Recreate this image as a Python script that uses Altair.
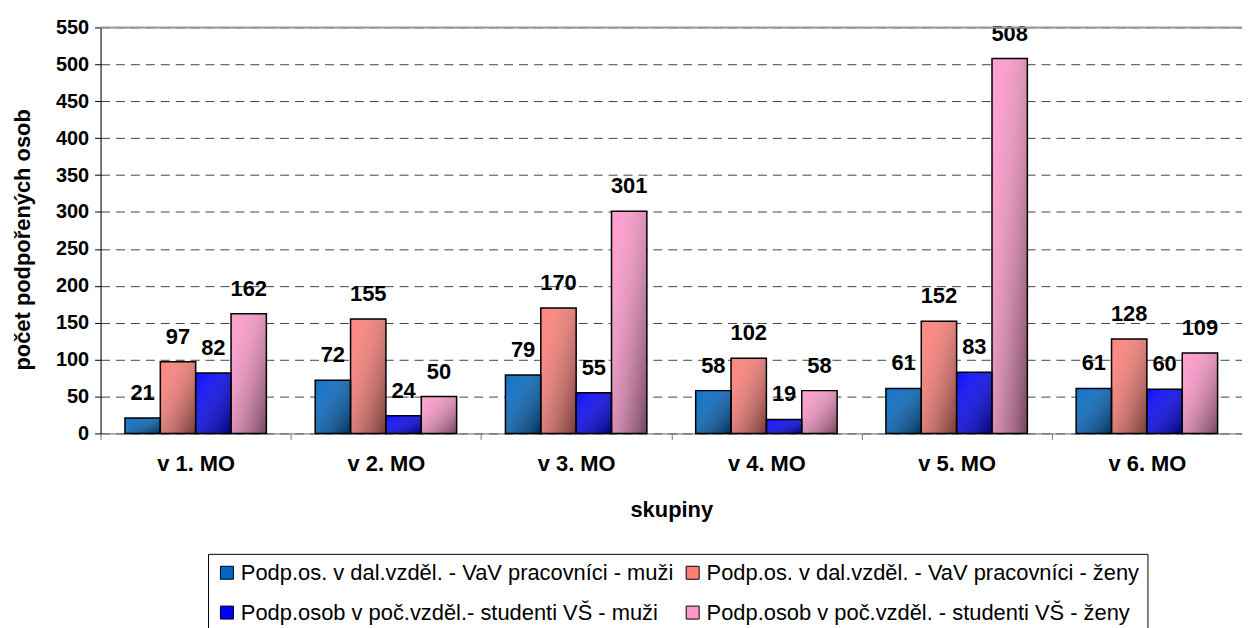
import altair as alt
import pandas as pd

groups = ["v 1. MO", "v 2. MO", "v 3. MO", "v 4. MO", "v 5. MO", "v 6. MO"]
series = [
    "Podp.os. v dal.vzděl. - VaV pracovníci - muži",
    "Podp.os. v dal.vzděl. - VaV pracovníci - ženy",
    "Podp.osob v poč.vzděl.- studenti VŠ - muži",
    "Podp.osob v poč.vzděl. - studenti VŠ - ženy",
]
vav_muzi = [21, 72, 79, 58, 61, 61]
vav_zeny = [97, 155, 170, 102, 152, 128]
stud_muzi = [82, 24, 55, 19, 83, 60]
stud_zeny = [162, 50, 301, 58, 508, 109]
colors = ["#0068c4", "#ff7f78", "#0000ff", "#ff99cc"]
y_ticks = list(range(0, 551, 50))

# legend is laid out column-first, so order the legend domain to read row-wise
legend_order = [series[0], series[2], series[1], series[3]]
legend_colors = [colors[0], colors[2], colors[1], colors[3]]

rows = []
for s, vals in zip(series, [vav_muzi, vav_zeny, stud_muzi, stud_zeny]):
    for g, v in zip(groups, vals):
        rows.append({"skupina": g, "serie": s, "hodnota": v})
df = pd.DataFrame(rows)

FONT = "Liberation Sans"

x_enc = alt.X(
    "skupina:N",
    sort=groups,
    title="skupiny",
    scale=alt.Scale(paddingInner=0, paddingOuter=0),
    axis=alt.Axis(
        labelAngle=0,
        tickBand="extent",
        tickSize=6,
        tickColor="#777777",
        domainColor="#777777",
        labelFontSize=22,
        labelFontWeight="bold",
        labelFont=FONT,
        labelColor="black",
        labelPadding=14,
        titleFontSize=22,
        titleFontWeight="bold",
        titleFont=FONT,
        titleColor="black",
        titlePadding=25,
        grid=False,
    ),
)
xo_enc = alt.XOffset(
    "serie:N", sort=series, scale=alt.Scale(paddingInner=0, paddingOuter=0.69)
)
y_enc = alt.Y(
    "hodnota:Q",
    title="počet podpořených osob",
    scale=alt.Scale(domain=[0, 550], nice=False),
    axis=alt.Axis(
        values=y_ticks,
        labelOverlap=False,
        grid=True,
        gridDash=[9, 6],
        gridColor="#444444",
        gridWidth=1,
        domainColor="black",
        tickColor="black",
        tickSize=6,
        labelFontSize=20,
        labelFontWeight="bold",
        labelFont=FONT,
        labelColor="black",
        labelPadding=6,
        titleFontSize=22,
        titleFontWeight="bold",
        titleFont=FONT,
        titleColor="black",
        titleX=-66,
        titleY=213,
    ),
)

base = alt.Chart(df)

bars = base.mark_bar().encode(
    x=x_enc,
    xOffset=xo_enc,
    y=y_enc,
    color=alt.Color(
        "serie:N",
        scale=alt.Scale(domain=legend_order, range=legend_colors),
        legend=alt.Legend(
            orient="none",
            legendX=108,
            legendY=529,
            columns=2,
            title=None,
            strokeColor="black",
            padding=8,
            symbolType="square",
            symbolSize=170,
            symbolStrokeColor="black",
            symbolStrokeWidth=1,
            labelFontSize=22,
            labelFont=FONT,
            labelColor="black",
            labelLimit=700,
            labelOffset=3,
            columnPadding=8,
            rowPadding=18,
        ),
    ),
)

shade = base.mark_bar(
    color=alt.Gradient(
        gradient="linear",
        stops=[
            alt.GradientStop(color="rgba(255,255,255,0.05)", offset=0),
            alt.GradientStop(color="rgba(0,0,0,0.55)", offset=1),
        ],
        x1=0,
        y1=0,
        x2=1,
        y2=1,
    ),
    stroke="black",
    strokeWidth=1.5,
).encode(x=x_enc, xOffset=xo_enc, y=y_enc)

labels = base.mark_text(
    baseline="middle", dy=-25, fontSize=22, fontWeight="bold", font=FONT, color="black"
).encode(
    x=x_enc,
    xOffset=xo_enc,
    y=y_enc,
    text="hodnota:Q",
)

top_line = alt.Chart(pd.DataFrame({"hodnota": [550]})).mark_rule(
    color="#999999", strokeWidth=2
).encode(y=y_enc)

chart = (
    alt.layer(bars, shade, labels, top_line)
    .properties(
        width=1147,
        height=408,
        autosize=alt.AutoSizeParams(type="none"),
        padding={"left": 93, "top": 18, "right": 0, "bottom": 194},
    )
    .configure_view(stroke=None)
    .configure(background="white")
)

chart.save("out.html", embed_options={"renderer": "svg", "actions": False})
